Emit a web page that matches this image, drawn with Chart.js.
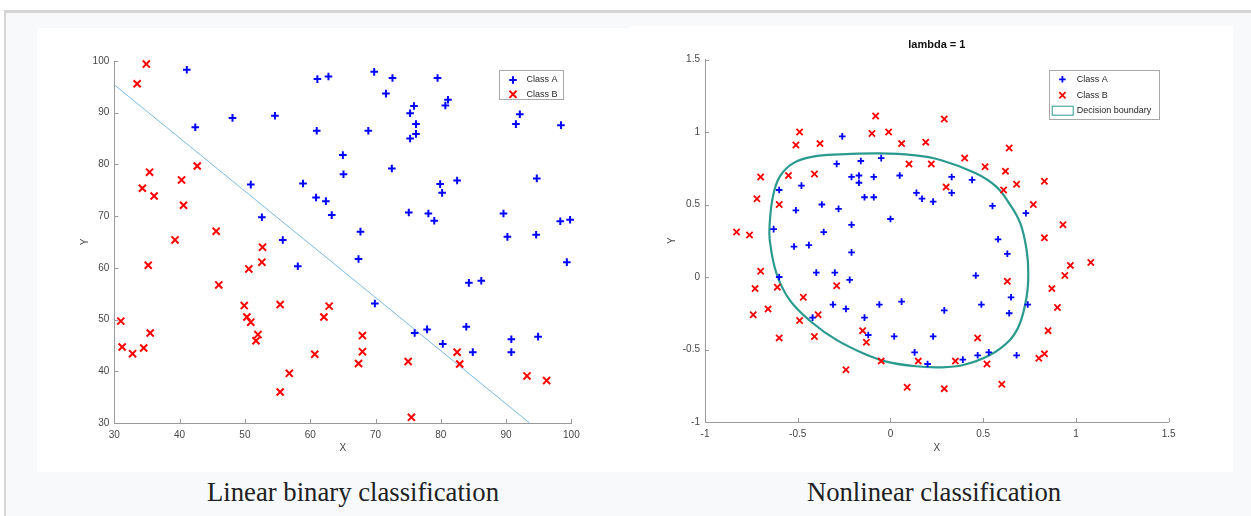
<!DOCTYPE html>
<html>
<head>
<meta charset="utf-8">
<script src="https://cdn.jsdelivr.net/npm/chart.js@4.4.0/dist/chart.umd.min.js"></script>
<style>
  body { margin: 0; background: #fff; width: 1251px; height: 516px; overflow: hidden; position: relative; }
  #frame { position: absolute; left: 4px; top: 10px; width: 1260px; height: 520px;
           background: #f8f9fa; border-top: 3px solid #d6d6d6; border-left: 2px solid #d6d6d6; }
  .panel { position: absolute; background: #fff; }
  .caption { position: absolute; font-family: "Liberation Serif", "Times New Roman", serif;
             font-size: 26.7px; color: #202122; white-space: nowrap; transform: translateX(-50%); }
</style>
</head>
<body>
<div id="frame"></div>
<div class="panel" style="left:37px;top:28px;width:593px;height:444px"><canvas id="linChart" width="593" height="444"></canvas></div>
<div class="panel" style="left:630px;top:26px;width:603px;height:446px"><canvas id="nlChart" width="603" height="446"></canvas></div>
<div class="caption" style="left:353px;top:477px">Linear binary classification</div>
<div class="caption" style="left:934px;top:477px">Nonlinear classification</div>
<script>
// linear example - class A (blue +)
const linAX = [41.1, 42.4, 48.1, 54.6, 61.1, 62.8, 69.8, 72.6, 79.5, 71.6, 75.9, 75.3, 81.1, 80.7, 76.2, 76.2, 75.3,
  68.9, 61.0, 92.1, 91.5, 98.4, 65.0, 65.1, 72.5, 79.9, 80.2, 82.5, 94.7, 63.3, 75.1, 78.1, 79.0, 89.6, 67.7, 90.2,
  94.6, 98.3, 99.8, 58.9, 60.9, 62.4, 50.9, 52.6, 55.8, 58.1, 67.4, 99.3, 84.3, 86.2, 69.9, 76.0, 77.9, 83.9, 80.3,
  84.9, 90.8, 90.8, 94.9];
const linAY = [98.3, 87.2, 89.0, 89.4, 96.5, 97.0, 97.9, 96.7, 96.7, 93.7, 91.3, 89.9, 92.5, 91.4, 87.8, 85.9, 85.0,
  86.5, 86.5, 89.7, 87.8, 87.6, 81.8, 78.1, 79.2, 76.2, 74.5, 76.9, 77.3, 70.2, 70.7, 70.5, 69.1, 70.5, 67.0, 66.0,
  66.4, 69.0, 69.3, 76.3, 73.6, 72.9, 76.1, 69.8, 65.4, 60.3, 61.7, 61.1, 57.1, 57.5, 53.1, 47.4, 48.1, 48.6, 45.3,
  43.7, 46.2, 43.7, 46.7];
// linear example - class B (red x)
const linBX = [34.9, 33.5, 35.4, 34.3, 36.1, 40.3, 40.6, 42.7, 39.3, 45.6, 52.7, 52.6, 35.2, 50.6, 46.0, 55.4, 49.9,
  62.9, 31.0, 50.3, 50.9, 62.1, 35.5, 52.0, 51.7, 31.2, 34.5, 32.8, 60.7, 56.8, 55.4, 68.0, 68.0, 67.4, 75.0, 82.5,
  82.9, 93.2, 96.2, 75.5];
const linBY = [99.4, 95.6, 78.5, 75.4, 73.9, 77.0, 72.1, 79.7, 65.4, 67.1, 64.0, 61.1, 60.5, 59.8, 56.7, 52.9, 52.7,
  52.6, 49.7, 50.5, 49.5, 50.5, 47.4, 47.1, 45.9, 44.7, 44.5, 43.4, 43.3, 39.6, 36.0, 46.9, 43.8, 41.5, 41.9, 43.7,
  41.4, 39.1, 38.2, 31.1];
// fitted boundary line
const sepX = [30, 93.6];
const sepY = [95.4, 30];

// nonlinear example (lambda = 1)
const nlAX = [-0.26, -0.29, -0.16, -0.05, -0.21, -0.17, -0.17, -0.09, 0.05, -0.48, -0.60, -0.14, -0.09, -0.37, -0.28,
  -0.51, 0.14, 0.17, 0.23, 0.00, -0.21, -0.36, -0.63, -0.52, -0.44, -0.21, -0.60, -0.40, -0.30, -0.22, -0.31, -0.24,
  -0.06, 0.06, -0.14, -0.42, -0.12, 0.02, 0.23, 0.13, 0.20, 0.33, 0.33, 0.44, 0.55, 0.73, 0.58, 0.63, 0.46, 0.65,
  0.49, 0.74, 0.64, 0.29, 0.53, 0.47, 0.39, 0.68];
const nlAY = [0.97, 0.78, 0.80, 0.82, 0.69, 0.70, 0.65, 0.69, 0.70, 0.63, 0.60, 0.55, 0.55, 0.50, 0.47, 0.46, 0.58,
  0.54, 0.52, 0.40, 0.36, 0.31, 0.33, 0.21, 0.22, 0.17, 0.00, 0.03, 0.03, -0.02, -0.19, -0.22, -0.19, -0.17, -0.28,
  -0.28, -0.40, -0.41, -0.41, -0.52, -0.60, 0.69, 0.58, 0.67, 0.49, 0.44, 0.26, 0.16, 0.01, -0.14, -0.19, -0.19,
  -0.25, -0.23, -0.52, -0.54, -0.57, -0.54];
const nlBX = [-0.08, -0.49, -0.10, -0.01, -0.51, -0.38, 0.06, 0.19, 0.10, 0.22, -0.70, -0.55, -0.41, -0.72, -0.60,
  -0.83, -0.76, -0.70, -0.73, -0.61, -0.29, -0.47, -0.66, -0.74, -0.49, -0.39, -0.60, -0.41, -0.15, -0.13, -0.05,
  0.15, -0.24, 0.09, 0.29, 0.64, 0.40, 0.51, 0.62, 0.68, 0.83, 0.30, 0.61, 0.77, 0.93, 0.83, 0.97, 1.08, 0.94, 0.63,
  0.87, 0.90, 0.85, 0.47, 0.83, 0.80, 0.35, 0.52, 0.60, 0.29];
const nlBY = [1.11, 1.00, 0.99, 1.00, 0.91, 0.92, 0.92, 0.93, 0.78, 0.78, 0.69, 0.70, 0.71, 0.54, 0.50, 0.31, 0.29,
  0.04, -0.08, -0.07, -0.06, -0.14, -0.22, -0.26, -0.30, -0.26, -0.42, -0.41, -0.37, -0.45, -0.58, -0.58, -0.64,
  -0.76, 1.09, 0.89, 0.82, 0.76, 0.73, 0.64, 0.66, 0.62, 0.60, 0.50, 0.36, 0.27, 0.08, 0.10, 0.01, -0.03, -0.08,
  -0.21, -0.37, -0.42, -0.53, -0.56, -0.58, -0.60, -0.74, -0.77];
// decision boundary contour, traced clockwise from the top
const bndX = [-0.24, -0.06, 0.12, 0.27, 0.46, 0.57, 0.64, 0.70, 0.734, 0.743, 0.734, 0.698, 0.644, 0.536, 0.392, 0.266,
  0.122, -0.022, -0.148, -0.291, -0.418, -0.543, -0.615, -0.651, -0.651, -0.634, -0.597, -0.526, -0.418, -0.24];
const bndY = [0.848, 0.853, 0.841, 0.807, 0.715, 0.623, 0.508, 0.370, 0.186, 0.026, -0.136, -0.319, -0.434, -0.538,
  -0.607, -0.623, -0.614, -0.584, -0.526, -0.434, -0.319, -0.159, 0.026, 0.255, 0.370, 0.554, 0.692, 0.784, 0.830,
  0.848];

const BLUE = '#0000ff';
const RED = '#ff0000';
const TEAL = '#2b9a8e';
const AXIS = '#9a9a9a';
const TICKTXT = '#474747';

Chart.defaults.font.family = '"Liberation Sans", Arial, Helvetica, sans-serif';
Chart.defaults.animation = false;

function pts(xs, ys) {
  return xs.map((x, i) => ({x: x, y: ys[i]}));
}

// matlab style ticks pointing into the plot
const inTicks = {
  id: 'inTicks',
  afterDatasetsDraw(chart) {
    const {ctx, chartArea, scales} = chart;
    ctx.save();
    ctx.strokeStyle = AXIS;
    ctx.lineWidth = 1;
    ctx.beginPath();
    for (const t of scales.x.ticks) {
      const px = Math.round(scales.x.getPixelForValue(t.value)) + 0.5;
      ctx.moveTo(px, chartArea.bottom);
      ctx.lineTo(px, chartArea.bottom - 4);
    }
    for (const t of scales.y.ticks) {
      const py = Math.round(scales.y.getPixelForValue(t.value)) + 0.5;
      ctx.moveTo(chartArea.left, py);
      ctx.lineTo(chartArea.left + 4, py);
    }
    ctx.stroke();
    ctx.restore();
  }
};

function drawMarker(ctx, style, x, y, r, color, lw) {
  ctx.save();
  ctx.strokeStyle = color;
  ctx.lineWidth = lw;
  ctx.beginPath();
  if (style === 'cross') {
    ctx.moveTo(x - r, y); ctx.lineTo(x + r, y);
    ctx.moveTo(x, y - r); ctx.lineTo(x, y + r);
  } else {
    const d = r * Math.SQRT1_2;
    ctx.moveTo(x - d, y - d); ctx.lineTo(x + d, y + d);
    ctx.moveTo(x - d, y + d); ctx.lineTo(x + d, y - d);
  }
  ctx.stroke();
  ctx.restore();
}

// legend box inside the top right corner of the axes
const boxLegend = {
  id: 'boxLegend',
  afterDraw(chart, args, opts) {
    const {ctx, chartArea} = chart;
    const left = chartArea.right - opts.right - opts.w;
    const top = chartArea.top + opts.top;
    ctx.save();
    ctx.fillStyle = '#fff';
    ctx.fillRect(left, top, opts.w, opts.h);
    ctx.strokeStyle = '#a8a8a8';
    ctx.lineWidth = 1;
    ctx.strokeRect(Math.round(left) + 0.5, Math.round(top) + 0.5, opts.w, opts.h);
    ctx.font = '9px "Liberation Sans", Arial, sans-serif';
    ctx.fillStyle = '#262626';
    ctx.textBaseline = 'middle';
    opts.items.forEach((idx, i) => {
      const ds = chart.data.datasets[idx];
      const cy = top + opts.rows[i];
      const cx = left + opts.symX;
      if (ds.showLine) {
        ctx.fillStyle = '#fff';
        ctx.fillRect(left + 3.5, cy - 4.5, 21, 9);
        ctx.strokeStyle = ds.borderColor;
        ctx.strokeRect(left + 3.5, cy - 4.5, 21, 9);
        ctx.fillStyle = '#262626';
      } else {
        drawMarker(ctx, ds.pointStyle, cx, cy, ds.pointRadius, ds.pointBorderColor, ds.pointBorderWidth);
      }
      ctx.fillText(ds.label, left + opts.textX, cy);
    });
    ctx.restore();
  }
};

function axisOpts(min, max, step, title, isX, titlePad, size) {
  return {
    type: 'linear',
    min: min,
    max: max,
    ticks: {stepSize: step, color: TICKTXT, font: {size: 10}, padding: isX ? 6 : 5, maxRotation: 0, autoSkip: false,
            callback: (v) => String(+v.toFixed(2))},
    grid: {display: false, drawTicks: false},
    border: {color: AXIS, width: 1},
    title: {display: true, text: title, color: TICKTXT, font: {size: 10},
            padding: isX ? {top: 0, bottom: titlePad} : {top: titlePad, bottom: 0}},
    afterFit(scale) {
      if (isX) scale.height = size; else scale.width = size;
    }
  };
}

new Chart(document.getElementById('linChart'), {
  type: 'scatter',
  data: {
    datasets: [
      {label: 'Class A', data: pts(linAX, linAY), pointStyle: 'cross', pointRadius: 3.8,
       pointBorderColor: BLUE, pointBorderWidth: 2, borderColor: BLUE, clip: false},
      {label: 'Class B', data: pts(linBX, linBY), pointStyle: 'crossRot', pointRadius: 5,
       pointBorderColor: RED, pointBorderWidth: 2, borderColor: RED, clip: false},
      {label: 'boundary', data: pts(sepX, sepY), showLine: true, borderColor: '#7db9e2',
       borderWidth: 1, pointRadius: 0}
    ]
  },
  options: {
    responsive: false,
    layout: {padding: {left: 0, right: 58.6, top: 33, bottom: 0}},
    scales: {
      x: axisOpts(30, 100, 10, 'X', true, 18, 49),
      y: axisOpts(30, 100, 10, 'Y', false, 42, 77.3)
    },
    plugins: {
      legend: {display: false},
      tooltip: {enabled: false},
      boxLegend: {items: [0, 1], w: 64, h: 29, right: 8.7, top: 9, symX: 14.3, textX: 27.7, rows: [10, 24.3]}
    }
  },
  plugins: [inTicks, boxLegend]
});

new Chart(document.getElementById('nlChart'), {
  type: 'scatter',
  data: {
    datasets: [
      {label: 'Class A', data: pts(nlAX, nlAY), pointStyle: 'cross', pointRadius: 3.3,
       pointBorderColor: BLUE, pointBorderWidth: 1.8, borderColor: BLUE, clip: false},
      {label: 'Class B', data: pts(nlBX, nlBY), pointStyle: 'crossRot', pointRadius: 4.4,
       pointBorderColor: RED, pointBorderWidth: 1.8, borderColor: RED, clip: false},
      {label: 'Decision boundary', data: pts(bndX, bndY), showLine: true, borderColor: TEAL,
       borderWidth: 2.2, tension: 0.4, pointRadius: 0}
    ]
  },
  options: {
    responsive: false,
    layout: {padding: {left: 0, right: 64.3, top: 0, bottom: 0}},
    scales: {
      x: axisOpts(-1, 1.5, 0.5, 'X', true, 18, 50),
      y: axisOpts(-1, 1.5, 0.5, 'Y', false, 36, 75)
    },
    plugins: {
      legend: {display: false},
      tooltip: {enabled: false},
      title: {display: true, text: 'lambda = 1', fullSize: false, color: '#111',
              font: {size: 11, weight: 'bold'}, padding: {top: 12.5, bottom: 7.8}},
      boxLegend: {items: [0, 1, 2], w: 110, h: 49, right: 10, top: 10.8, symX: 13.7, textX: 28, rows: [9, 25, 40.4]}
    }
  },
  plugins: [inTicks, boxLegend]
});
</script>
</body>
</html>
